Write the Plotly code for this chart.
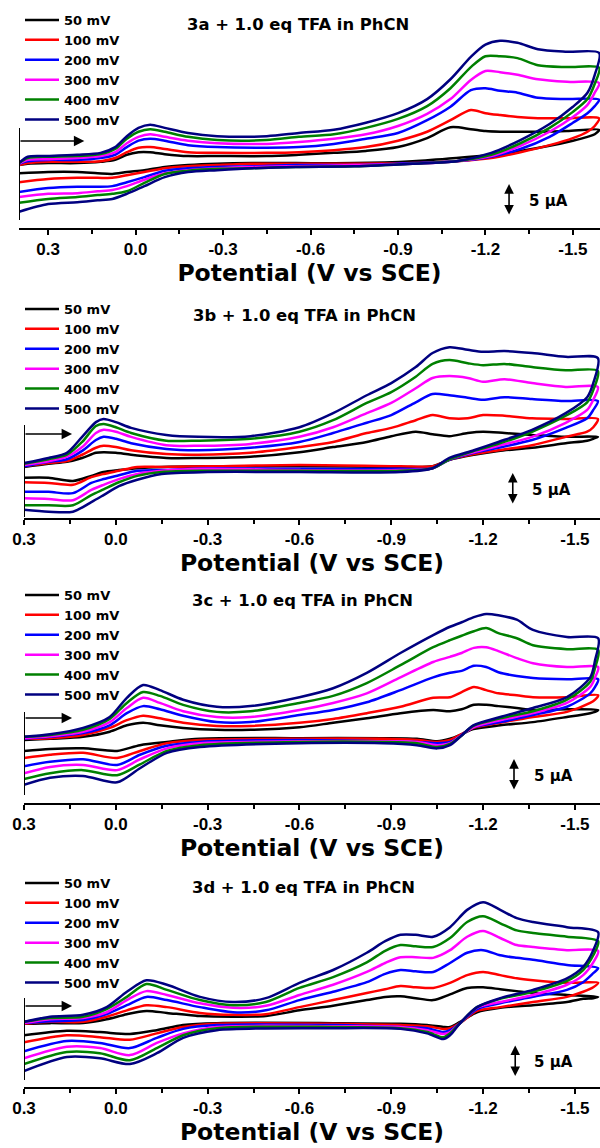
import plotly.graph_objects as go

RATES = ["50 mV", "100 mV", "200 mV", "300 mV", "400 mV", "500 mV"]
COLORS = ["#000000", "#ff0000", "#0000ff", "#ff00ff", "#008000", "#000080"]

TICK_V = [0.3, 0.0, -0.3, -0.6, -0.9, -1.2, -1.5]
TICK_T = ["0.3", "0.0", "-0.3", "-0.6", "-0.9", "-1.2", "-1.5"]
MINOR_V = [0.15, -0.15, -0.45, -0.75, -1.05, -1.35]

# ---------------- 3a : potential (V vs SCE) and current (µA) ----------------
E_FWD_3A = [0.40, 0.37, 0.30, 0.20, 0.12, 0.07, 0.03, -0.01, -0.05, -0.10, -0.18, -0.28, -0.45,
            -0.56, -0.68, -0.79, -0.90, -1.00, -1.08, -1.15, -1.20, -1.25, -1.31, -1.38, -1.48, -1.59]
I_FWD_3A = [
    [0.0, 0.2, 0.3, 0.3, 0.5, 0.8, 1.6, 2.0, 2.0, 1.7, 1.4, 1.4, 1.4, 1.6, 1.9, 2.2, 2.8, 4.2, 5.9, 5.6, 5.3, 5.2, 5.2, 5.2, 5.3, 5.5],
    [0.0, 0.3, 0.5, 0.5, 0.6, 1.1, 2.0, 2.7, 2.8, 2.5, 2.0, 1.9, 1.9, 2.0, 2.3, 2.8, 3.8, 5.2, 7.0, 8.6, 8.1, 7.8, 7.5, 7.3, 7.3, 7.3],
    [0.2, 0.6, 0.8, 0.8, 1.1, 1.6, 2.8, 3.8, 4.1, 3.8, 3.1, 2.8, 2.7, 2.8, 3.3, 4.1, 5.0, 7.0, 9.1, 11.7, 12.0, 11.6, 11.3, 10.5, 10.3, 10.2],
    [0.2, 0.8, 0.9, 1.1, 1.4, 2.0, 3.4, 4.4, 4.8, 4.4, 3.8, 3.4, 3.3, 3.6, 4.1, 4.8, 6.1, 8.0, 10.3, 13.3, 14.7, 14.5, 14.1, 13.4, 13.0, 12.8],
    [0.3, 1.1, 1.3, 1.4, 1.7, 2.5, 4.1, 5.2, 5.6, 5.2, 4.4, 3.9, 3.9, 4.4, 4.8, 5.8, 7.2, 9.2, 12.0, 15.3, 17.0, 17.0, 16.7, 15.6, 15.3, 15.2],
    [0.3, 1.3, 1.4, 1.6, 1.9, 2.8, 4.5, 5.8, 6.3, 5.8, 5.0, 4.5, 4.5, 5.0, 5.5, 6.6, 8.1, 10.3, 13.4, 16.9, 18.8, 19.4, 19.1, 18.1, 17.7, 17.5],
]
E_REV_3A = [-1.575, -1.55, -1.50, -1.42, -1.32, -1.22, -1.10, -0.95, -0.75, -0.55, -0.40, -0.28, -0.18,
            -0.10, -0.03, 0.03, 0.08, 0.13, 0.20, 0.30, 0.40]
I_REV_3A = [
    [4.8, 4.4, 3.8, 3.0, 2.2, 1.6, 1.1, 0.6, 0.3, 0.3, 0.3, 0.2, 0.0, -0.3, -0.8, -1.1, -1.4, -1.3, -1.1, -1.1, -1.3],
    [6.1, 5.2, 4.2, 3.1, 2.0, 1.1, 0.6, 0.3, 0.2, 0.2, 0.2, 0.0, -0.2, -0.5, -1.1, -1.6, -2.0, -2.0, -2.0, -2.2, -2.7],
    [9.2, 8.1, 6.6, 4.4, 2.5, 1.3, 0.6, 0.3, 0.0, 0.0, -0.2, -0.3, -0.5, -0.9, -1.9, -2.7, -3.3, -3.4, -3.4, -3.6, -4.2],
    [11.3, 9.4, 7.5, 5.2, 3.0, 1.4, 0.6, 0.2, 0.0, -0.2, -0.3, -0.5, -0.8, -1.3, -2.3, -3.3, -3.9, -4.1, -4.4, -4.5, -5.0],
    [12.7, 10.3, 8.3, 5.8, 3.4, 1.6, 0.6, 0.2, -0.2, -0.3, -0.5, -0.6, -0.9, -1.4, -2.8, -4.1, -4.5, -4.7, -5.0, -5.3, -5.9],
    [14.1, 11.3, 9.1, 6.4, 3.9, 1.9, 0.6, 0.2, -0.2, -0.3, -0.5, -0.8, -1.1, -1.9, -3.3, -4.5, -5.3, -5.5, -5.8, -6.1, -7.3],
]

# ---------------- 3b ----------------
E_FWD_3B = [0.30, 0.22, 0.16, 0.11, 0.065, 0.04, 0.00, -0.05, -0.165, -0.27, -0.44, -0.60, -0.71,
            -0.82, -0.90, -0.98, -1.035, -1.09, -1.15, -1.20, -1.27, -1.36, -1.47, -1.575]
I_FWD_3B = [
    [-0.3, 0.2, 0.5, 1.1, 1.9, 2.0, 1.9, 1.6, 1.1, 1.1, 1.3, 2.0, 2.8, 3.6, 4.5, 5.2, 4.8, 4.5, 5.0, 5.2, 5.0, 4.7, 4.4, 4.4],
    [-0.2, 0.3, 0.6, 1.6, 2.7, 3.0, 2.8, 2.3, 1.7, 1.6, 1.9, 2.8, 3.6, 5.0, 5.8, 7.0, 7.8, 7.3, 7.3, 7.8, 7.7, 7.3, 7.2, 7.2],
    [-0.2, 0.5, 0.9, 2.2, 3.9, 4.4, 4.1, 3.4, 2.5, 2.3, 2.7, 3.6, 5.0, 6.6, 7.8, 9.8, 11.1, 10.9, 10.5, 10.2, 10.6, 10.3, 10.0, 10.0],
    [0.0, 0.6, 1.3, 2.8, 5.0, 5.5, 5.2, 4.4, 3.1, 3.0, 3.3, 4.4, 5.9, 8.1, 9.7, 12.0, 13.6, 13.9, 13.6, 13.0, 13.4, 12.8, 12.2, 12.2],
    [0.2, 0.9, 1.6, 3.6, 6.1, 6.4, 5.9, 5.0, 3.8, 3.8, 4.1, 5.2, 7.0, 9.7, 11.4, 13.8, 15.8, 16.4, 15.9, 15.6, 15.8, 15.3, 14.8, 14.7],
    [0.3, 1.1, 1.9, 4.4, 6.7, 7.2, 6.7, 5.8, 4.7, 4.4, 4.5, 5.9, 8.1, 10.9, 12.8, 15.3, 17.5, 18.4, 18.0, 17.7, 17.8, 17.5, 16.9, 16.7],
]
E_REV_3B = [-1.56, -1.54, -1.47, -1.36, -1.25, -1.17, -1.09, -1.035, -0.93, -0.60, -0.30, -0.15, -0.07,
            -0.01, 0.04, 0.08, 0.14, 0.22, 0.30]
I_REV_3B = [
    [4.1, 3.8, 3.4, 2.7, 2.2, 1.6, 0.8, -0.2, -0.3, -0.2, -0.2, -0.3, -0.5, -0.8, -1.1, -1.7, -2.5, -2.0, -2.0],
    [5.9, 5.2, 4.4, 3.1, 2.3, 1.7, 0.8, -0.2, -0.2, 0.0, -0.2, -0.3, -0.3, -0.9, -1.4, -1.9, -3.1, -2.8, -2.7],
    [8.6, 7.3, 5.8, 3.9, 2.7, 1.9, 0.8, -0.5, -0.6, -0.6, -0.5, -0.8, -0.9, -1.6, -2.2, -2.8, -4.4, -4.2, -4.2],
    [10.2, 8.6, 6.6, 4.4, 3.0, 2.0, 0.9, -0.5, -0.8, -0.8, -0.6, -0.9, -1.4, -2.2, -3.1, -3.9, -5.5, -5.3, -5.2],
    [11.7, 9.8, 7.7, 5.2, 3.3, 2.2, 0.9, -0.5, -0.9, -0.9, -0.9, -1.1, -1.7, -2.7, -3.8, -4.7, -6.3, -6.3, -6.3],
    [12.8, 10.6, 8.1, 5.5, 3.6, 2.3, 1.1, -0.5, -1.1, -1.1, -1.1, -1.4, -2.3, -3.3, -4.7, -5.8, -7.3, -7.3, -7.0],
]

# ---------------- 3c ----------------
E_FWD_3C = [0.30, 0.215, 0.107, 0.02, -0.036, -0.089, -0.144, -0.22, -0.33, -0.44, -0.60, -0.71,
            -0.82, -0.93, -1.037, -1.092, -1.13, -1.17, -1.21, -1.25, -1.31, -1.363, -1.474, -1.576]
I_FWD_3C = [
    [0.0, 0.2, 0.5, 1.3, 2.3, 2.7, 2.3, 1.9, 1.6, 1.6, 2.0, 2.7, 3.4, 4.2, 4.7, 4.5, 4.8, 5.5, 5.5, 5.3, 5.0, 4.7, 4.8, 4.7],
    [0.2, 0.3, 0.8, 1.9, 3.1, 3.8, 3.4, 2.7, 2.2, 2.2, 2.7, 3.3, 4.2, 5.2, 6.6, 6.7, 7.5, 8.3, 7.8, 7.3, 7.0, 6.7, 6.7, 7.0],
    [0.2, 0.5, 1.1, 2.3, 4.2, 5.3, 4.8, 3.8, 2.8, 2.8, 3.9, 4.7, 5.9, 7.8, 9.8, 10.5, 10.8, 11.6, 11.4, 10.6, 10.0, 9.7, 9.5, 9.5],
    [0.3, 0.6, 1.3, 2.8, 5.0, 6.6, 5.8, 4.5, 3.6, 3.6, 4.7, 5.8, 7.3, 9.8, 12.2, 13.0, 13.6, 14.4, 14.5, 13.9, 12.8, 12.0, 11.4, 11.4],
    [0.5, 0.8, 1.6, 3.3, 5.8, 7.5, 6.9, 5.5, 4.4, 4.5, 5.8, 6.9, 8.9, 11.7, 14.5, 15.6, 16.3, 17.0, 17.5, 16.7, 15.9, 14.8, 14.2, 14.1],
    [0.5, 0.9, 1.9, 3.6, 6.6, 8.6, 7.8, 6.3, 5.2, 5.3, 6.7, 8.1, 10.5, 13.6, 16.4, 17.7, 18.4, 19.2, 19.7, 19.5, 18.8, 17.2, 16.1, 15.9],
]
E_REV_3C = [-1.566, -1.55, -1.474, -1.363, -1.256, -1.168, -1.125, -1.092, -1.05, -0.984, -0.873, -0.60,
            -0.275, -0.167, -0.079, -0.004, 0.107, 0.215, 0.30]
I_REV_3C = [
    [4.4, 4.2, 3.6, 2.8, 2.3, 1.7, 0.8, 0.2, -0.2, 0.2, 0.3, 0.3, 0.2, -0.3, -0.8, -1.7, -1.3, -1.4, -1.7],
    [6.3, 5.8, 4.4, 3.6, 2.7, 1.9, 0.8, 0.0, -0.3, 0.0, 0.2, 0.2, 0.0, -0.5, -1.7, -2.8, -2.0, -2.3, -2.8],
    [8.3, 7.3, 5.2, 3.9, 2.8, 2.0, 0.6, -0.3, -0.5, -0.3, -0.2, 0.0, -0.3, -0.9, -2.3, -3.9, -3.0, -3.4, -4.1],
    [9.8, 8.3, 5.8, 4.2, 3.1, 2.0, 0.6, -0.5, -0.8, -0.3, -0.2, -0.2, -0.5, -1.3, -3.0, -4.7, -3.9, -4.2, -5.2],
    [11.3, 9.1, 6.3, 4.5, 3.4, 2.2, 0.5, -0.6, -1.1, -0.5, -0.3, -0.3, -0.8, -1.7, -3.8, -5.5, -4.7, -5.2, -6.1],
    [12.5, 9.8, 6.7, 5.0, 3.6, 2.3, 0.5, -0.8, -1.3, -0.8, -0.5, -0.5, -1.1, -2.0, -4.4, -6.6, -5.6, -5.9, -7.0],
]

# ---------------- 3d ----------------
E_FWD_3D = [0.30, 0.215, 0.107, 0.03, -0.036, -0.10, -0.167, -0.275, -0.383, -0.49, -0.60, -0.71, -0.82,
            -0.88, -0.93, -0.98, -1.037, -1.092, -1.148, -1.20, -1.256, -1.31, -1.363, -1.474, -1.576]
I_FWD_3D = [
    [0.2, 0.3, 0.3, 0.9, 1.7, 2.2, 1.9, 1.4, 1.3, 1.4, 2.3, 3.0, 3.9, 4.4, 4.5, 4.2, 3.9, 4.8, 5.8, 5.9, 5.6, 5.3, 5.0, 4.7, 4.4],
    [0.2, 0.5, 0.5, 1.3, 2.3, 3.1, 2.8, 1.9, 1.6, 1.7, 2.8, 3.9, 5.0, 5.6, 6.1, 5.9, 5.8, 6.6, 7.8, 8.3, 7.8, 7.3, 7.0, 6.6, 6.6],
    [0.3, 0.6, 0.8, 1.7, 3.1, 4.4, 3.9, 2.8, 2.0, 2.3, 3.9, 5.2, 6.7, 8.0, 8.6, 8.4, 8.3, 9.7, 11.3, 11.7, 10.9, 10.5, 10.2, 9.4, 8.9],
    [0.3, 0.9, 1.1, 2.0, 3.9, 5.3, 4.7, 3.4, 2.7, 3.0, 4.7, 6.3, 8.3, 9.7, 10.6, 10.6, 10.5, 11.7, 13.8, 14.7, 13.6, 12.5, 12.2, 11.7, 11.6],
    [0.5, 1.1, 1.3, 2.5, 4.4, 6.4, 5.5, 3.9, 3.1, 3.6, 5.8, 7.5, 9.8, 11.6, 12.5, 12.3, 12.2, 13.6, 16.1, 17.0, 15.9, 14.8, 14.4, 13.8, 13.1],
    [0.5, 1.3, 1.6, 2.8, 5.2, 7.0, 6.3, 4.4, 3.6, 4.2, 6.6, 8.6, 11.3, 13.1, 14.1, 14.1, 13.8, 15.3, 18.0, 19.2, 18.0, 16.7, 16.1, 15.3, 14.5],
]
E_REV_3D = [-1.56, -1.527, -1.474, -1.363, -1.256, -1.18, -1.125, -1.092, -1.07, -1.017, -0.93, -0.71,
            -0.33, -0.22, -0.134, -0.046, 0.052, 0.16, 0.30]
I_REV_3D = [
    [4.2, 4.1, 3.6, 3.1, 2.7, 2.0, 0.5, -0.3, -0.3, 0.0, 0.2, 0.3, 0.3, 0.0, -0.8, -1.4, -1.1, -0.9, -1.6],
    [5.9, 5.2, 4.4, 3.6, 2.8, 2.2, 0.3, -0.5, -0.6, -0.2, 0.0, 0.2, 0.2, -0.3, -1.3, -2.3, -1.9, -1.6, -2.7],
    [8.1, 6.7, 5.5, 4.4, 3.4, 2.5, 0.3, -0.8, -1.1, -0.5, -0.3, 0.0, 0.0, -0.6, -2.0, -3.6, -2.8, -2.5, -4.1],
    [9.8, 7.8, 6.3, 4.7, 3.6, 2.7, 0.3, -1.1, -1.4, -0.8, -0.3, -0.2, -0.3, -1.3, -2.8, -4.7, -3.6, -3.4, -5.2],
    [10.9, 8.6, 6.9, 5.2, 4.1, 2.8, 0.3, -1.3, -1.9, -1.1, -0.5, -0.3, -0.5, -1.6, -3.6, -5.5, -4.4, -4.2, -6.1],
    [11.7, 9.1, 7.3, 5.5, 4.2, 2.8, 0.3, -1.6, -2.2, -1.3, -0.6, -0.5, -0.8, -2.0, -4.4, -6.1, -5.2, -5.0, -7.2],
]

TITLES = ["3a + 1.0 eq TFA in PhCN", "3b + 1.0 eq TFA in PhCN",
          "3c + 1.0 eq TFA in PhCN", "3d + 1.0 eq TFA in PhCN"]

H = 1148.0
W = 600.0

PANELS = [
    dict(fwd=(E_FWD_3A, I_FWD_3A), rev=(E_REV_3A, I_REV_3A),
         xdom=[19 / W, 1], xr=[0.40, -1.593], ydom=[0.8014, 0.9826], yr=[-9.84, 22.66],
         title=(298, 25), legend_top=5, start=(0.40, 0.176, 3.75), vline=(0.40, -8.59, 5.78),
         bar=(-1.281, -7.97, -2.97), bar_text=(-1.343, -5.6)),
    dict(fwd=(E_FWD_3B, I_FWD_3B), rev=(E_REV_3B, I_REV_3B),
         xdom=[24 / W, 1], xr=[0.30, -1.582], ydom=[0.5488, 0.7343], yr=[-8.28, 25.0],
         title=(304, 315), legend_top=294, start=(0.30, 0.143, 4.84), vline=(0.30, -8.13, 6.25),
         bar=(-1.297, -6.25, -1.25), bar_text=(-1.352, -3.9)),
    dict(fwd=(E_FWD_3C, I_FWD_3C), rev=(E_REV_3C, I_REV_3C),
         xdom=[24 / W, 1], xr=[0.30, -1.582], ydom=[0.3005, 0.4817], yr=[-9.84, 22.66],
         title=(302, 600), legend_top=580, start=(0.30, 0.143, 3.44), vline=(0.30, -8.59, 4.38),
         bar=(-1.301, -7.97, -2.97), bar_text=(-1.36, -5.6)),
    dict(fwd=(E_FWD_3D, I_FWD_3D), rev=(E_REV_3D, I_REV_3D),
         xdom=[24 / W, 1], xr=[0.30, -1.582], ydom=[0.0531, 0.2334], yr=[-9.69, 22.66],
         title=(303, 887), legend_top=868, start=(0.30, 0.143, 2.97), vline=(0.30, -8.6, 4.22),
         bar=(-1.305, -8.2, -3.2), bar_text=(-1.36, -5.8)),
]

BOLD = "DejaVu Sans"
fig = go.Figure()
layout = dict(width=600, height=1148, margin=dict(l=0, r=0, t=0, b=0, autoexpand=False),
              paper_bgcolor="white", plot_bgcolor="white", showlegend=True)
annotations = []
shapes = []

for k, p in enumerate(PANELS):
    n = k + 1
    sfx = "" if n == 1 else str(n)
    xa, ya, lg = "x" + sfx, "y" + sfx, "legend" + sfx
    ef, i_f = p["fwd"]
    er, i_r = p["rev"]
    for j, rate in enumerate(RATES):
        fig.add_trace(go.Scatter(
            x=ef + er, y=i_f[j] + i_r[j], mode="lines", name=rate,
            line=dict(color=COLORS[j], width=2.5, shape="spline", smoothing=0.8),
            xaxis=xa, yaxis=ya, legend=lg, hoverinfo="skip"))

    layout["xaxis" + sfx] = dict(
        domain=p["xdom"], range=p["xr"], anchor=ya, automargin=False,
        showline=True, linecolor="black", linewidth=1.5,
        ticks="outside", ticklen=5, tickwidth=1.5, tickcolor="black",
        tickmode="array", tickvals=TICK_V, ticktext=TICK_T,
        tickfont=dict(family="Liberation Sans", size=17, weight="bold", color="black"),
        minor=dict(tickvals=MINOR_V, ticks="outside", ticklen=4, tickwidth=1.5, tickcolor="black"),
        showgrid=False, zeroline=False,
        title=dict(text="Potential (V vs SCE)", standoff=5,
                   font=dict(family=BOLD, size=23.5, weight="bold", color="black")))
    layout["yaxis" + sfx] = dict(domain=p["ydom"], range=p["yr"], anchor=xa,
                                 visible=False, automargin=False)
    layout[lg] = dict(x=20 / W, y=1 - p["legend_top"] / H, xanchor="left", yanchor="top",
                      font=dict(family=BOLD, size=13, weight="bold", color="black"),
                      bgcolor="rgba(0,0,0,0)", traceorder="normal", itemclick=False,
                      itemwidth=34)

    tx_t, ty_t = p["title"]
    annotations.append(dict(xref="paper", yref="paper", x=tx_t / W, y=1 - ty_t / H,
                            text=TITLES[k], showarrow=False, xanchor="center", yanchor="middle",
                            font=dict(family=BOLD, size=16.4, weight="bold", color="black")))
    x0, x1, ys = p["start"]
    annotations.append(dict(xref=xa, yref=ya, axref=xa, ayref=ya, x=x1, y=ys, ax=x0, ay=ys,
                            text="", showarrow=True, arrowhead=2, arrowsize=1.3,
                            arrowwidth=1.6, arrowcolor="black", standoff=0))
    bx, by0, by1 = p["bar"]
    annotations.append(dict(xref=xa, yref=ya, axref=xa, ayref=ya, x=bx, y=by1, ax=bx, ay=by0,
                            text="", showarrow=True, arrowhead=2, startarrowhead=2,
                            arrowside="end+start", arrowsize=1.2, startarrowsize=1.2,
                            arrowwidth=1.6, arrowcolor="black", standoff=0, startstandoff=0))
    tx, ty = p["bar_text"]
    annotations.append(dict(xref=xa, yref=ya, x=tx, y=ty, text="5 µA", showarrow=False,
                            xanchor="left", yanchor="middle",
                            font=dict(family=BOLD, size=15, weight="bold", color="black")))
    vx, vy0, vy1 = p["vline"]
    shapes.append(dict(type="line", xref=xa, yref=ya, x0=vx, x1=vx, y0=vy0, y1=vy1,
                       line=dict(color="black", width=2)))

layout["annotations"] = annotations
layout["shapes"] = shapes
fig.update_layout(**layout)
fig.write_html("out.html")
